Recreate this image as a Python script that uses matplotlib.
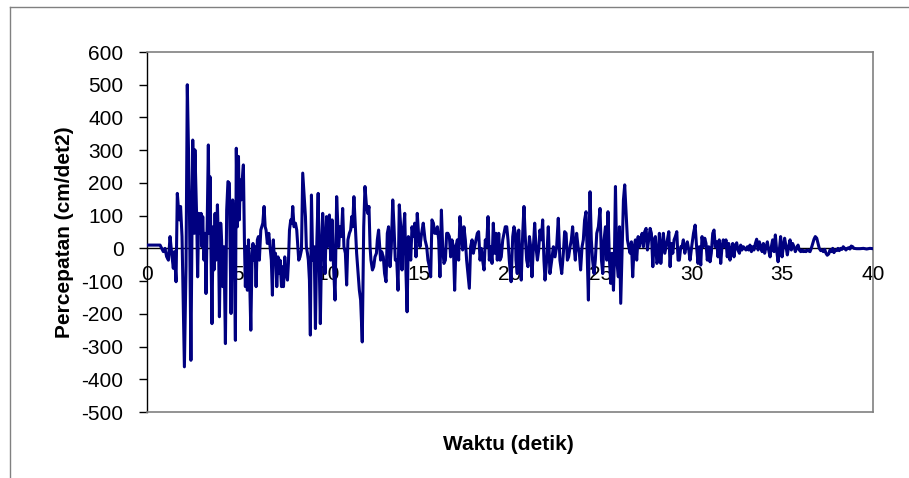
import numpy as np
import matplotlib
matplotlib.use("Agg")
import matplotlib.pyplot as plt
from matplotlib.lines import Line2D

plt.rcParams['font.family'] = ['Liberation Sans', 'DejaVu Sans']

# accelerogram: (time s, acceleration cm/det2)
seg_0_5 = [(0.00, 10), (0.35, 10), (0.72, 10), (0.90, -10), (0.99, 0), (1.08, -25), (1.18, -36),
           (1.27, 36), (1.36, -15), (1.45, -61), (1.51, -10), (1.60, -102), (1.67, 168), (1.78, 87),
           (1.85, 128), (1.93, 36), (2.06, -362), (2.15, -56), (2.22, 500), (2.33, 168), (2.42, -342),
           (2.52, 331), (2.61, 46), (2.64, 301), (2.74, 87), (2.79, -87), (2.85, 107), (2.92, 46),
           (2.98, 107), (3.03, 5), (3.07, 97), (3.14, -36), (3.20, 46), (3.25, -138), (3.32, 87),
           (3.38, 316), (3.43, 46), (3.47, 219), (3.53, -36), (3.58, -230), (3.64, 66), (3.69, -66),
           (3.75, 107), (3.80, -36), (3.88, 133), (3.95, -15), (3.99, -209), (4.06, 77), (4.11, 26),
           (4.17, -117), (4.24, 5), (4.32, -291), (4.39, 117), (4.46, 204), (4.54, 199), (4.57, 36),
           (4.63, -199), (4.72, 148), (4.79, 66), (4.87, -281), (4.92, 306)]

seg_5_10 = [(4.98, 66), (5.04, 281), (5.09, 87), (5.13, 209), (5.18, 148), (5.24, 204), (5.31, 255),
            (5.37, 15), (5.42, -117), (5.48, 5), (5.53, -128), (5.59, 26), (5.64, -56), (5.72, -250),
            (5.79, -15), (5.84, 15), (5.90, -36), (5.95, 5), (6.01, -117), (6.08, 26), (6.14, 36),
            (6.19, -36), (6.27, 56), (6.32, 66), (6.38, 77), (6.45, 128), (6.51, 66), (6.56, 56),
            (6.63, 15), (6.71, 46), (6.78, 5), (6.85, -36), (6.91, -143), (6.96, 26), (7.02, -36),
            (7.08, -15), (7.15, -117), (7.22, -26), (7.28, -77), (7.33, -36), (7.41, -117), (7.46, -56),
            (7.52, -117), (7.59, -26), (7.66, -77), (7.74, -97), (7.79, -46), (7.85, 56), (7.92, 87),
            (7.98, 77), (8.03, 128), (8.10, 66), (8.18, 77), (8.25, 56), (8.31, 5), (8.36, -36),
            (8.43, -26), (8.51, -5), (8.58, 230), (8.65, 168), (8.73, 97), (8.78, 5), (8.84, -15),
            (8.89, -36), (8.95, -97), (9.00, -265), (9.06, 163), (9.13, -36), (9.21, 5), (9.28, -245),
            (9.35, 5), (9.43, 168), (9.48, -15), (9.55, -230), (9.63, 36), (9.68, 107), (9.74, 5),
            (9.81, -77), (9.89, 97), (9.94, 5)]

seg_10_15 = [(10.00, 66), (10.05, 102), (10.12, -36), (10.20, 87), (10.27, -46), (10.36, -158),
             (10.45, 158), (10.56, 5), (10.63, 66), (10.71, 36), (10.78, 122), (10.85, 5), (10.93, -15),
             (11.00, -112), (11.07, 26), (11.15, 46), (11.22, 56), (11.28, 97), (11.33, 66), (11.40, 158),
             (11.48, 66), (11.55, -15), (11.63, -77), (11.70, -128), (11.77, -158), (11.86, -286),
             (11.94, 66), (12.01, 189), (12.08, 138), (12.16, 107), (12.23, 128), (12.29, 5), (12.34, -36),
             (12.42, -66), (12.49, -56), (12.56, -26), (12.64, -15), (12.69, 26), (12.76, 56), (12.82, 5),
             (12.87, -36), (12.93, -10), (13.02, -26), (13.09, -77), (13.17, -102), (13.24, 46),
             (13.31, 66), (13.39, -56), (13.46, 5), (13.54, 148), (13.61, 66), (13.68, -36), (13.76, -36),
             (13.83, -128), (13.90, 133), (13.98, 66), (14.05, -66), (14.12, 46), (14.20, 107),
             (14.27, -77), (14.33, -194), (14.40, 36), (14.45, 15), (14.53, -36), (14.60, 66), (14.67, 36),
             (14.75, 77), (14.82, -26), (14.89, 107), (14.97, 36)]

seg_15_20 = [(15.04, 5), (15.13, 46), (15.22, 77), (15.32, 26), (15.41, 5), (15.48, -36), (15.56, -56),
             (15.63, -87), (15.70, 87), (15.78, 77), (15.85, 46), (15.92, 46), (16.00, 66), (16.07, 26),
             (16.14, -87), (16.22, 117), (16.29, 5), (16.36, -46), (16.44, -36), (16.51, 46), (16.58, 46),
             (16.66, 36), (16.73, -26), (16.80, 26), (16.88, 5), (16.95, -128), (17.02, 5), (17.10, 26),
             (17.17, -36), (17.24, 97), (17.32, 46), (17.39, -5), (17.46, 66), (17.54, 26), (17.61, -36),
             (17.68, -77), (17.76, -122), (17.83, 5), (17.91, 26), (17.98, -15), (18.05, 5), (18.13, 26),
             (18.20, 46), (18.27, 51), (18.35, -36), (18.42, 0), (18.49, -36), (18.57, -66), (18.64, 26),
             (18.71, 5), (18.79, 97), (18.86, -36), (18.93, 5), (19.01, -46), (19.08, 77), (19.16, -15),
             (19.23, 46), (19.30, -36), (19.38, 46), (19.45, -36), (19.52, -26), (19.60, 26), (19.67, 46),
             (19.74, 66), (19.82, 66), (19.89, 26), (19.96, -36)]

seg_20_25 = [(20.06, -102), (20.15, 36), (20.22, 66), (20.30, 46), (20.33, -36), (20.40, -77), (20.48, 56),
             (20.55, -36), (20.62, -97), (20.70, 46), (20.77, 128), (20.84, 36), (20.92, -36), (20.99, -56),
             (21.07, 36), (21.14, 5), (21.21, -87), (21.29, 5), (21.36, 77), (21.43, 5), (21.51, -36),
             (21.58, -5), (21.65, 56), (21.73, 26), (21.80, 87), (21.87, -36), (21.93, -97), (22.02, -36),
             (22.11, 66), (22.20, -77), (22.30, -36), (22.39, 5), (22.48, -26), (22.57, 5), (22.66, 92),
             (22.75, -36), (22.85, -77), (22.94, -15), (23.01, 51), (23.09, 46), (23.16, -36), (23.23, -26),
             (23.31, 5), (23.38, 26), (23.45, 66), (23.53, 5), (23.60, -36), (23.67, 46), (23.75, 5),
             (23.82, -15), (23.89, -66), (23.97, 5), (24.04, 26), (24.11, 87), (24.19, 112), (24.26, -36),
             (24.32, -158), (24.37, 66), (24.41, 173), (24.48, 26), (24.55, -36), (24.63, -77), (24.70, -36),
             (24.78, 46), (24.87, 66), (24.96, 122)]

seg_25_30 = [(25.04, -36), (25.11, -77), (25.18, 26), (25.26, 66), (25.33, -36), (25.40, 112), (25.48, -36),
             (25.55, -107), (25.62, -15), (25.70, -128), (25.75, -36), (25.81, 189), (25.88, -36),
             (25.97, -87), (26.03, 66), (26.10, -168), (26.18, 5), (26.25, 148), (26.32, 194), (26.40, 107),
             (26.47, 26), (26.54, 5), (26.62, -15), (26.69, 20), (26.76, -87), (26.84, 5), (26.91, 26),
             (26.98, -36), (27.06, 36), (27.13, 5), (27.20, 26), (27.28, 46), (27.35, 5), (27.42, 51),
             (27.50, 61), (27.57, -5), (27.64, 26), (27.72, 61), (27.79, 46), (27.87, -56), (27.94, 26),
             (28.01, 36), (28.09, -46), (28.16, -36), (28.23, 46), (28.31, -46), (28.38, 5), (28.45, 46),
             (28.53, -15), (28.60, 5), (28.67, 26), (28.75, 51), (28.82, -56), (28.89, 15), (28.97, -15),
             (29.04, 26), (29.11, 36), (29.19, 51), (29.26, -36), (29.33, -36), (29.41, 5), (29.48, 5),
             (29.55, 26), (29.63, -15), (29.70, 5), (29.77, 20), (29.85, -5), (29.92, -36)]

seg_30_40 = [(30.01, 5), (30.11, 46), (30.20, 71), (30.28, 5), (30.36, -46), (30.43, 5), (30.51, -51),
             (30.58, 36), (30.65, 5), (30.73, 31), (30.80, 15), (30.87, -36), (30.95, 5), (31.02, -41),
             (31.09, -15), (31.17, 46), (31.24, 56), (31.31, 5), (31.39, 20), (31.46, -26), (31.53, 26),
             (31.61, -46), (31.68, 5), (31.75, 26), (31.83, 5), (31.90, 26), (31.97, -26), (32.05, 15),
             (32.12, -36), (32.19, -5), (32.27, 15), (32.34, -26), (32.42, 10), (32.49, 17), (32.56, -5),
             (32.64, -15), (32.71, 10), (32.78, -5), (32.86, 5), (32.93, 0), (33.00, -5), (33.08, 5),
             (33.15, -5), (33.22, 10), (33.30, -10), (33.37, 5), (33.44, -5), (33.52, 15), (33.59, 28),
             (33.67, -5), (33.74, 20), (33.81, 5), (33.89, -10), (33.96, 15), (34.03, -15), (34.11, 5),
             (34.18, 20), (34.25, -5), (34.33, -26), (34.40, 5), (34.47, 26), (34.55, -10), (34.62, 41),
             (34.69, -5), (34.77, -41), (34.84, -5), (34.91, 36), (34.99, -26), (35.06, 5), (35.13, 31),
             (35.21, 5), (35.28, -20), (35.35, 5), (35.43, 26), (35.50, -5), (35.57, 15), (35.65, 5),
             (35.72, -10), (35.79, 0), (35.87, 10), (35.94, -5), (36.02, -10), (36.09, -5), (36.16, -10),
             (36.24, -7), (36.31, -10), (36.38, -5), (36.46, -8), (36.53, -10), (36.60, 0), (36.68, 15),
             (36.75, 28), (36.82, 36), (36.90, 31), (36.97, 15), (37.04, 0), (37.12, -7), (37.19, -5),
             (37.26, -10), (37.34, -3), (37.41, -15), (37.48, -21), (37.56, -17), (37.63, -5), (37.70, -10),
             (37.78, 0), (37.85, -13), (37.92, -5), (38.00, -7), (38.07, 0), (38.14, -7), (38.22, 0),
             (38.29, -3), (38.36, 5), (38.44, 0), (38.51, -5), (38.58, 0), (38.66, 2), (38.73, -2),
             (38.80, 7), (38.88, 5), (38.95, 0), (39.10, -1), (39.28, -1), (39.47, 0), (39.65, -2),
             (39.83, 0), (40.00, -1)]

x_ticks = [0, 5, 10, 15, 20, 25, 30, 35, 40]
y_ticks = [-500, -400, -300, -200, -100, 0, 100, 200, 300, 400, 500, 600]

data = np.array(seg_0_5 + seg_5_10 + seg_10_15 + seg_15_20 + seg_20_25 + seg_25_30 + seg_30_40)
waktu = data[:, 0]
percepatan = data[:, 1]

fig = plt.figure(figsize=(9.09, 4.78), dpi=100)
ax = fig.add_axes([147 / 909, 1 - 412 / 478, 726 / 909, 360 / 478])

# bingkai luar grafik (hanya atas dan kiri yang terlihat)
fig.add_artist(Line2D([10 / 909, 1.0], [1 - 7 / 478, 1 - 7 / 478], color='#808080', lw=1))
fig.add_artist(Line2D([10 / 909, 10 / 909], [0, 1 - 7 / 478], color='#808080', lw=1))

ax.axhline(0, color='black', lw=1, zorder=1)
ax.plot(waktu, percepatan, color='#000080', lw=2.2, zorder=3)

ax.set_xlim(0, 40)
ax.set_ylim(-500, 600)
ax.set_yticks(y_ticks)
ax.set_yticklabels([str(v) for v in y_ticks], fontsize=15)
ax.tick_params(axis='y', direction='out', length=6, width=1, pad=11)
ax.set_xticks([])

for s in ['top', 'right', 'bottom']:
    ax.spines[s].set_color('#808080')
    ax.spines[s].set_linewidth(1.2)
ax.spines['left'].set_color('black')
ax.spines['left'].set_linewidth(1)

# label sumbu x berada di garis nol
for t in x_ticks:
    ax.annotate(str(t), xy=(t, 0), xytext=(0, -19), textcoords='offset points',
                ha='center', va='center', fontsize=15, zorder=2, annotation_clip=False)

fig.text(65 / 909, 1 - 232 / 478, 'Percepatan (cm/det2)', rotation=90, ha='center', va='center',
         fontsize=15, fontweight='bold')
fig.text(508 / 909, 1 - 444 / 478, 'Waktu (detik)', ha='center', va='center',
         fontsize=15, fontweight='bold')

fig.savefig('out.png', dpi=100)
